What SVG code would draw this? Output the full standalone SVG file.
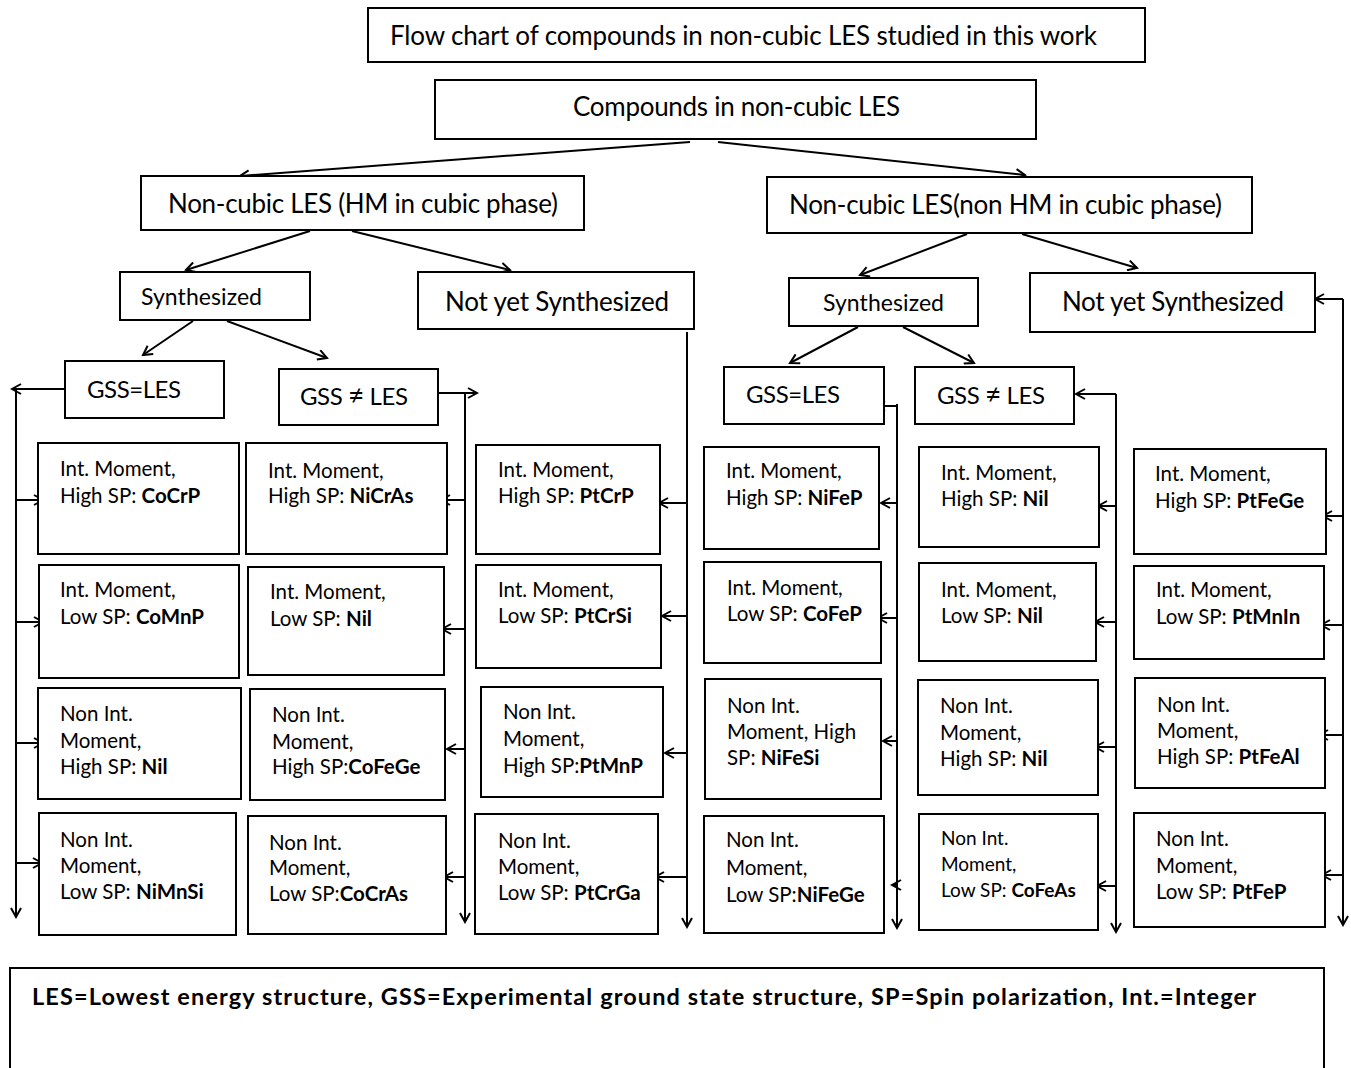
<svg xmlns="http://www.w3.org/2000/svg" width="1351" height="1068" viewBox="0 0 1351 1068">
<style>
.b{fill:#fff;stroke:#000;stroke-width:2}
text{font-family:Lato,"Open Sans","Liberation Sans",sans-serif;fill:#000}
.h{font-size:26px}
.g{font-size:24px}
.s{font-size:23px}
.d{font-size:20.5px}
.d5{font-size:19px}
.k{font-weight:bold}
.c{fill:none;stroke:#000;stroke-width:2}
.a{marker-end:url(#ah)}
</style>
<defs>
<marker id="ah" markerUnits="userSpaceOnUse" markerWidth="12" markerHeight="12" refX="10" refY="6" orient="auto">
<path d="M1,1 L10,6 L1,11" fill="none" stroke="#000" stroke-width="2"/>
</marker>
</defs>
<rect x="0" y="0" width="1351" height="1068" fill="#fff"/>

<g id="connectors">
<path class="c a" d="M690,142 L240,176"/>
<path class="c a" d="M718,142 L1025,175"/>
<path class="c a" d="M310,231 L186,270"/>
<path class="c a" d="M352,231 L510,270"/>
<path class="c a" d="M967,234 L860,275"/>
<path class="c a" d="M1022,234 L1137,268"/>
<path class="c a" d="M193,321 L143,355"/>
<path class="c a" d="M227,321 L327,358"/>
<path class="c a" d="M858,327 L790,363"/>
<path class="c a" d="M903,327 L974,363"/>
<path class="c a" d="M65,389 L12,389"/>
<path class="c a" d="M16,389 L16,917"/>
<path class="c a" d="M16,500 L43,500"/>
<path class="c a" d="M16,622 L43,622"/>
<path class="c a" d="M16,743 L43,743"/>
<path class="c a" d="M16,863 L42,863"/>
<path class="c a" d="M438,393 L477,393"/>
<path class="c a" d="M465,393 L465,922"/>
<path class="c a" d="M465,500 L441,500"/>
<path class="c a" d="M465,629 L442,629"/>
<path class="c a" d="M465,749 L447,749"/>
<path class="c a" d="M465,877 L444,877"/>
<path class="c a" d="M687,332 L687,927"/>
<path class="c a" d="M687,503 L659,503"/>
<path class="c a" d="M687,616 L662,616"/>
<path class="c a" d="M687,753 L665,753"/>
<path class="c a" d="M687,877 L655,877"/>
<path class="c a" d="M897,406 L876,406"/>
<path class="c a" d="M897,404 L897,928"/>
<path class="c a" d="M897,503 L881,503"/>
<path class="c a" d="M897,618 L878,618"/>
<path class="c a" d="M897,741 L883,741"/>
<path class="c a" d="M897,885 L892,885"/>
<path class="c a" d="M1116,394 L1076,394"/>
<path class="c a" d="M1116,394 L1116,932"/>
<path class="c a" d="M1116,506 L1098,506"/>
<path class="c a" d="M1116,622 L1095,622"/>
<path class="c a" d="M1116,747 L1095,747"/>
<path class="c a" d="M1116,886 L1097,886"/>
<path class="c a" d="M1343,299 L1315,299"/>
<path class="c a" d="M1343,299 L1343,925"/>
<path class="c a" d="M1343,516 L1323,516"/>
<path class="c a" d="M1343,625 L1321,625"/>
<path class="c a" d="M1343,735 L1319,735"/>
<path class="c a" d="M1343,875 L1322,875"/>
</g>

<g id="title"><rect class="b" x="368" y="8" width="777" height="54"/><text class="h" x="390" y="45" textLength="707">Flow chart of compounds in non-cubic LES studied in this work</text></g>
<g id="compounds"><rect class="b" x="435" y="80" width="601" height="59"/><text class="h" x="573" y="116" textLength="327">Compounds in non-cubic LES</text></g>
<g id="hm"><rect class="b" x="141" y="176" width="443" height="54"/><text class="h" x="168" y="213" textLength="390">Non-cubic LES (HM in cubic phase)</text></g>
<g id="nonhm"><rect class="b" x="767" y="177" width="485" height="56"/><text class="h" x="789" y="214" textLength="433">Non-cubic LES(non HM in cubic phase)</text></g>
<g id="syn-left"><rect class="b" x="120" y="272" width="190" height="48"/><text class="s" x="141" y="305" textLength="121">Synthesized</text></g>
<g id="notyet-left"><rect class="b" x="418" y="272" width="276" height="57"/><text class="h" x="445" y="311" textLength="224">Not yet Synthesized</text></g>
<g id="syn-right"><rect class="b" x="789" y="278" width="189" height="48"/><text class="s" x="823" y="311" textLength="121">Synthesized</text></g>
<g id="notyet-right"><rect class="b" x="1030" y="273" width="285" height="59"/><text class="h" x="1062" y="311" textLength="222">Not yet Synthesized</text></g>
<g id="gsseq-left"><rect class="b" x="65" y="361" width="159" height="57"/><text class="g" x="87" y="398" textLength="94">GSS=LES</text></g>
<g id="gssne-left"><rect class="b" x="279" y="369" width="159" height="56"/><text class="g" x="300" y="405" textLength="108">GSS <tspan font-size="28">≠</tspan> LES</text></g>
<g id="gsseq-right"><rect class="b" x="724" y="367" width="160" height="57"/><text class="g" x="746" y="403" textLength="94">GSS=LES</text></g>
<g id="gssne-right"><rect class="b" x="915" y="367" width="159" height="57"/><text class="g" x="937" y="404" textLength="108">GSS <tspan font-size="28">≠</tspan> LES</text></g>

<g id="c1r1"><rect class="b" x="38" y="443" width="201" height="111"/><text class="d" x="60" y="476">Int. Moment,</text><text class="d" x="60" y="503">High SP: <tspan class="k">CoCrP</tspan></text></g>
<g id="c1r2"><rect class="b" x="39" y="565" width="200" height="113"/><text class="d" x="60" y="597">Int. Moment,</text><text class="d" x="60" y="624">Low SP: <tspan class="k">CoMnP</tspan></text></g>
<g id="c1r3"><rect class="b" x="38" y="688" width="203" height="111"/><text class="d" x="60" y="721">Non Int.</text><text class="d" x="60" y="748">Moment,</text><text class="d" x="60" y="774">High SP: <tspan class="k">Nil</tspan></text></g>
<g id="c1r4"><rect class="b" x="39" y="813" width="197" height="122"/><text class="d" x="60" y="847">Non Int.</text><text class="d" x="60" y="873">Moment,</text><text class="d" x="60" y="899">Low SP: <tspan class="k">NiMnSi</tspan></text></g>

<g id="c2r1"><rect class="b" x="246" y="443" width="201" height="111"/><text class="d" x="268" y="478">Int. Moment,</text><text class="d" x="268" y="503">High SP: <tspan class="k">NiCrAs</tspan></text></g>
<g id="c2r2"><rect class="b" x="248" y="567" width="196" height="108"/><text class="d" x="270" y="599">Int. Moment,</text><text class="d" x="270" y="626">Low SP: <tspan class="k">Nil</tspan></text></g>
<g id="c2r3"><rect class="b" x="250" y="689" width="195" height="111"/><text class="d" x="272" y="722">Non Int.</text><text class="d" x="272" y="749">Moment,</text><text class="d" x="272" y="774">High SP:<tspan class="k">CoFeGe</tspan></text></g>
<g id="c2r4"><rect class="b" x="248" y="816" width="198" height="118"/><text class="d" x="269" y="850">Non Int.</text><text class="d" x="269" y="875">Moment,</text><text class="d" x="269" y="901">Low SP:<tspan class="k">CoCrAs</tspan></text></g>

<g id="c3r1"><rect class="b" x="476" y="445" width="184" height="109"/><text class="d" x="498" y="477">Int. Moment,</text><text class="d" x="498" y="503">High SP: <tspan class="k">PtCrP</tspan></text></g>
<g id="c3r2"><rect class="b" x="476" y="565" width="185" height="103"/><text class="d" x="498" y="597">Int. Moment,</text><text class="d" x="498" y="623">Low SP: <tspan class="k">PtCrSi</tspan></text></g>
<g id="c3r3"><rect class="b" x="481" y="687" width="182" height="110"/><text class="d" x="503" y="719">Non Int.</text><text class="d" x="503" y="746">Moment,</text><text class="d" x="503" y="773">High SP:<tspan class="k">PtMnP</tspan></text></g>
<g id="c3r4"><rect class="b" x="475" y="814" width="183" height="120"/><text class="d" x="498" y="848">Non Int.</text><text class="d" x="498" y="874">Moment,</text><text class="d" x="498" y="900">Low SP: <tspan class="k">PtCrGa</tspan></text></g>

<g id="c4r1"><rect class="b" x="704" y="447" width="175" height="102"/><text class="d" x="726" y="478">Int. Moment,</text><text class="d" x="726" y="505">High SP: <tspan class="k">NiFeP</tspan></text></g>
<g id="c4r2"><rect class="b" x="704" y="562" width="177" height="101"/><text class="d" x="727" y="595">Int. Moment,</text><text class="d" x="727" y="621">Low SP: <tspan class="k">CoFeP</tspan></text></g>
<g id="c4r3"><rect class="b" x="705" y="679" width="176" height="120"/><text class="d" x="727" y="713">Non Int.</text><text class="d" x="727" y="739">Moment, High</text><text class="d" x="727" y="765">SP: <tspan class="k">NiFeSi</tspan></text></g>
<g id="c4r4"><rect class="b" x="704" y="816" width="180" height="117"/><text class="d" x="726" y="847">Non Int.</text><text class="d" x="726" y="875">Moment,</text><text class="d" x="726" y="902">Low SP:<tspan class="k">NiFeGe</tspan></text></g>

<g id="c5r1"><rect class="b" x="919" y="447" width="180" height="100"/><text class="d" x="941" y="480">Int. Moment,</text><text class="d" x="941" y="506">High SP: <tspan class="k">Nil</tspan></text></g>
<g id="c5r2"><rect class="b" x="919" y="563" width="177" height="98"/><text class="d" x="941" y="597">Int. Moment,</text><text class="d" x="941" y="623">Low SP: <tspan class="k">Nil</tspan></text></g>
<g id="c5r3"><rect class="b" x="918" y="680" width="180" height="115"/><text class="d" x="940" y="713">Non Int.</text><text class="d" x="940" y="740">Moment,</text><text class="d" x="940" y="766">High SP: <tspan class="k">Nil</tspan></text></g>
<g id="c5r4"><rect class="b" x="919" y="814" width="179" height="116"/><text class="d5" x="941" y="845">Non Int.</text><text class="d5" x="941" y="871">Moment,</text><text class="d5" x="941" y="897">Low SP: <tspan class="k">CoFeAs</tspan></text></g>

<g id="c6r1"><rect class="b" x="1134" y="449" width="192" height="105"/><text class="d" x="1155" y="481">Int. Moment,</text><text class="d" x="1155" y="508">High SP: <tspan class="k">PtFeGe</tspan></text></g>
<g id="c6r2"><rect class="b" x="1134" y="566" width="190" height="93"/><text class="d" x="1156" y="597">Int. Moment,</text><text class="d" x="1156" y="624">Low SP: <tspan class="k">PtMnIn</tspan></text></g>
<g id="c6r3"><rect class="b" x="1135" y="678" width="190" height="110"/><text class="d" x="1157" y="712">Non Int.</text><text class="d" x="1157" y="738">Moment,</text><text class="d" x="1157" y="764">High SP: <tspan class="k">PtFeAl</tspan></text></g>
<g id="c6r4"><rect class="b" x="1134" y="813" width="191" height="114"/><text class="d" x="1156" y="846">Non Int.</text><text class="d" x="1156" y="873">Moment,</text><text class="d" x="1156" y="899">Low SP: <tspan class="k">PtFeP</tspan></text></g>

<g id="legend"><rect class="b" x="10" y="968" width="1314" height="120"/><text class="k" x="32" y="1005" font-size="23.5" textLength="1224">LES=Lowest energy structure, GSS=Experimental ground state structure, SP=Spin polarization, Int.=Integer</text></g>
</svg>
